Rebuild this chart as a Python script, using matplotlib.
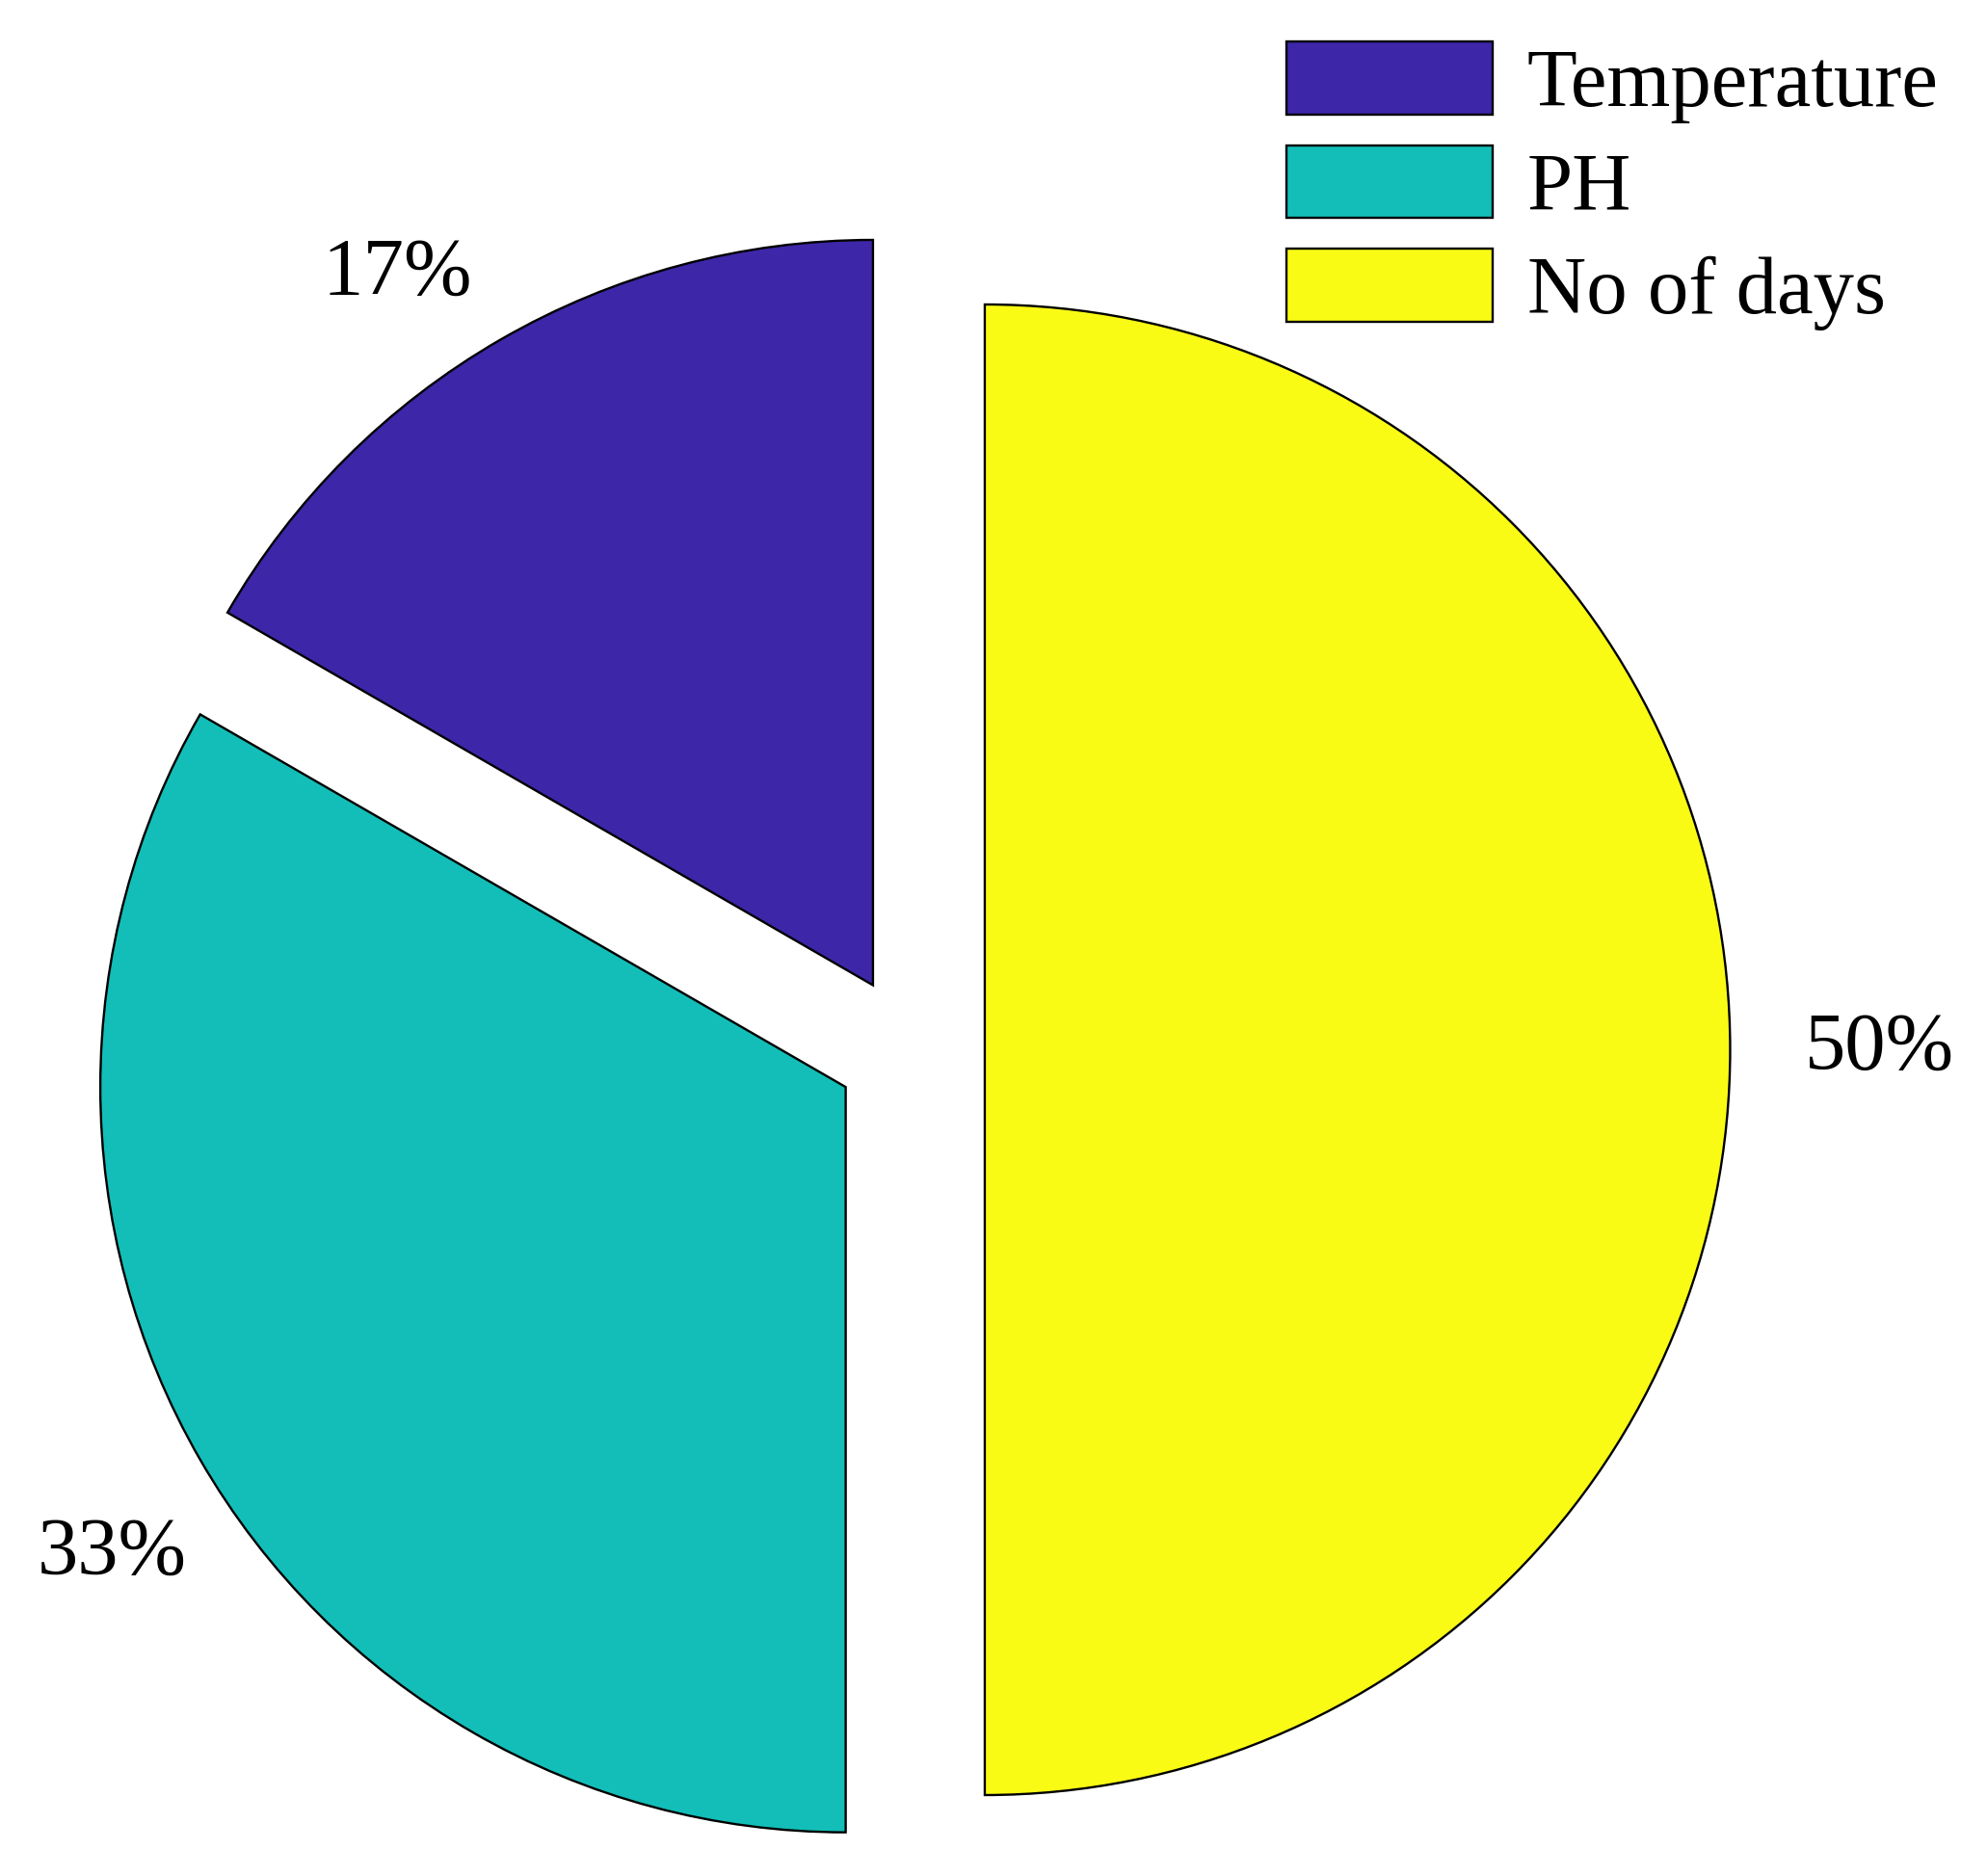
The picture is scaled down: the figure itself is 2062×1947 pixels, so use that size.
import numpy as np
import matplotlib.pyplot as plt

# data
labels = ["Temperature", "PH", "No of days"]
shares = [1, 2, 3]  # slices are exactly 1/6, 1/3, 1/2 of the circle
pct_text = [f"{round(100 * s / sum(shares))}%" for s in shares]
colors = ["#3E26A8", "#13BEB8", "#F9FB15"]

plt.rcParams["font.family"] = ["Liberation Serif", "DejaVu Serif"]
FS = 61

fig = plt.figure(figsize=(20.62, 19.47), dpi=100)
ax = fig.add_axes([0, 0, 1, 1])
ax.set_axis_off()

# matlab-style pie: every slice pulled out by 0.1 R
wedges, _ = ax.pie(
    shares,
    colors=colors,
    startangle=90,
    counterclock=True,
    explode=[0.1] * len(shares),
    radius=1.0,
    wedgeprops=dict(edgecolor="black", linewidth=1.7),
)

# label placement: 1.1 R from each slice's tip, along the slice middle
nudge = {0: (0.012, 0.0), 1: (0.068, -0.077)}
for i, w in enumerate(wedges):
    mid = np.deg2rad((w.theta1 + w.theta2) / 2)
    cx, cy = w.center
    x = cx + 1.1 * np.cos(mid)
    y = cy + 1.1 * np.sin(mid)
    dx, dy = nudge.get(i, (0, 0))
    ha = "left" if np.cos(mid) > 0.01 else "right"
    ax.text(x + dx, y + dy, pct_text[i], fontsize=FS, ha=ha, va="center")

ax.set_xlim(-1.2212, 1.4446)
ax.set_ylim(-1.1086, 1.4085)
ax.set_aspect("equal")

leg = ax.legend(
    wedges, labels,
    loc="upper left",
    bbox_to_anchor=(0.6474, 0.978),
    bbox_transform=fig.transFigure,
    fontsize=FS,
    frameon=False,
    borderpad=0,
    borderaxespad=0,
    handlelength=2.53,
    handleheight=1.0,
    handletextpad=0.42,
    labelspacing=0.27,
)

fig.savefig("out.png", dpi=100)
